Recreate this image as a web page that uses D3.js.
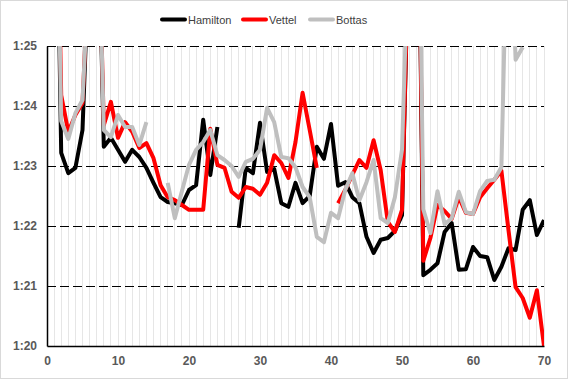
<!DOCTYPE html>
<html><head><meta charset="utf-8">
<script src="https://cdn.jsdelivr.net/npm/d3@7"></script>
<style>
html,body{margin:0;padding:0;background:#fff;}
svg{display:block;}
</style></head>
<body>
<svg id="chart" width="568" height="379"></svg>
<script>
// Lap numbers 1..70
const laps = d3.range(1, 71);
// Lap times in seconds (null = no data)
const hamilton = [90.5,83.22,82.88,82.97,83.6,86.8,88.5,83.32,83.47,83.27,
  83.07,83.27,83.15,82.97,82.72,82.48,82.4,82.38,82.35,82.6,
  82.68,83.77,82.85,83.65,null,null,81.97,82.97,82.88,83.72,
  82.9,82.95,82.38,82.32,82.72,82.38,82.5,83.32,83.12,83.7,
  82.67,82.73,82.48,82.38,81.82,81.55,81.77,81.8,81.92,82.18,
  87.0,91.0,81.18,81.27,81.38,81.9,82.05,81.27,81.28,81.65,
  81.5,81.48,81.1,81.32,81.63,81.6,82.27,82.43,81.85,82.1];
const vettel = [90.5,84.18,83.57,83.85,84.05,86.6,88.3,83.68,84.07,83.47,
  83.73,83.57,83.3,83.38,83.13,82.68,82.48,82.43,82.35,82.27,
  82.27,82.27,83.62,83.02,82.97,82.57,82.47,82.65,82.62,82.52,
  82.72,83.18,83.05,82.8,83.4,84.22,83.6,82.97,null,null,
  82.38,82.6,82.85,83.1,82.97,83.43,82.93,82.07,81.9,82.27,
  87.0,91.0,81.42,81.8,82.35,82.25,82.12,82.48,82.22,82.2,
  82.48,82.63,82.77,82.92,81.93,80.98,80.8,80.47,80.93,80.0];
const bottas = [90.5,83.75,83.45,83.88,84.1,86.5,88.4,83.6,83.48,83.85,
  83.65,83.65,83.35,83.73,null,null,82.72,82.13,82.58,83.02,
  83.27,83.4,83.6,83.18,83.1,83.0,82.82,83.07,83.12,83.27,
  83.97,83.73,83.15,83.13,82.98,82.65,82.48,81.82,81.73,82.22,
  82.13,82.6,82.88,82.43,82.73,83.1,82.13,82.05,82.48,83.27,
  87.0,91.0,82.28,81.88,82.58,82.03,82.13,82.57,82.23,82.2,
  82.58,82.75,82.77,82.98,88.0,84.77,84.98,null,null,null];
const seriesNames = ["Hamilton","Vettel","Bottas"];
const seriesColors = ["#000000","#ff0000","#bfbfbf"];
const yTicks = [80,81,82,83,84,85];
const xTicks = [0,10,20,30,40,50,60,70];

const W = 568, H = 379;
const m = {left:47, right:24, top:46, bottom:33};
const svg = d3.select("#chart");
svg.append("rect").attr("x",0.5).attr("y",0.5).attr("width",W-1).attr("height",H-1)
  .attr("fill","#fff").attr("stroke","#d9d9d9");

const x = d3.scaleLinear().domain([0,70]).range([m.left, W-m.right]);
const y = d3.scaleLinear().domain([80,85]).range([H-m.bottom, m.top]);
const fmt = v => Math.floor(v/60) + ":" + String(Math.round(v%60)).padStart(2,"0");

// vertical minor gridlines
svg.append("g").selectAll("line").data(laps).join("line")
  .attr("x1",d=>x(d)).attr("x2",d=>x(d)).attr("y1",y(85)).attr("y2",y(80))
  .attr("stroke","#e6e6e6").attr("stroke-width",1).attr("shape-rendering","crispEdges");
// horizontal dashed gridlines
svg.append("g").selectAll("line").data(yTicks.filter(v=>v>80)).join("line")
  .attr("x1",x(0)).attr("x2",x(70)).attr("y1",d=>y(d)).attr("y2",d=>y(d))
  .attr("stroke","#000").attr("stroke-width",1).attr("stroke-dasharray","9,4")
  .attr("shape-rendering","crispEdges");

// clip
svg.append("clipPath").attr("id","clip").append("rect")
  .attr("x",x(0)).attr("y",y(85)).attr("width",x(70)-x(0)).attr("height",y(80)-y(85));

const line = d3.line().defined(d=>d[1]!=null).x(d=>x(d[0])).y(d=>y(d[1]));
const all = [hamilton, vettel, bottas];
const gl = svg.append("g").attr("clip-path","url(#clip)");
all.forEach((s,i)=>{
  gl.append("path").datum(laps.map((l,k)=>[l,s[k]]))
    .attr("d",line).attr("fill","none").attr("stroke",seriesColors[i])
    .attr("stroke-width",4).attr("stroke-linejoin","round").attr("stroke-linecap","butt");
});

// axes
const yAxis = d3.axisLeft(y).tickValues(yTicks).tickFormat(fmt).tickSize(0).tickPadding(10);
const ya = svg.append("g").attr("transform",`translate(${x(0)},0)`).call(yAxis);
ya.select(".domain").attr("stroke","#000").attr("stroke-width",1.5);
ya.selectAll("text").attr("font-family","'Liberation Sans', Arial, sans-serif")
  .attr("font-size",12).attr("font-weight","bold").attr("fill","#595959");
const xAxis = d3.axisBottom(x).tickValues(xTicks).tickFormat(d3.format("d")).tickSize(0).tickPadding(10);
const xa = svg.append("g").attr("transform",`translate(0,${y(80)})`).call(xAxis);
xa.select(".domain").attr("stroke","#000").attr("stroke-width",1.5);
xa.selectAll("text").attr("font-family","'Liberation Sans', Arial, sans-serif")
  .attr("font-size",12).attr("font-weight","bold").attr("fill","#595959");

// legend
const lg = svg.append("g");
const legX = [160, 241, 308];
seriesNames.forEach((n,i)=>{
  lg.append("line").attr("x1",legX[i]+2).attr("x2",legX[i]+25).attr("y1",19.5).attr("y2",19.5)
    .attr("stroke",seriesColors[i]).attr("stroke-width",4).attr("stroke-linecap","round");
  lg.append("text").attr("x",legX[i]+28).attr("y",23.5).text(n)
    .attr("font-family","'Liberation Sans', Arial, sans-serif").attr("font-size",11)
    .attr("fill","#404040");
});
</script>
</body></html>
